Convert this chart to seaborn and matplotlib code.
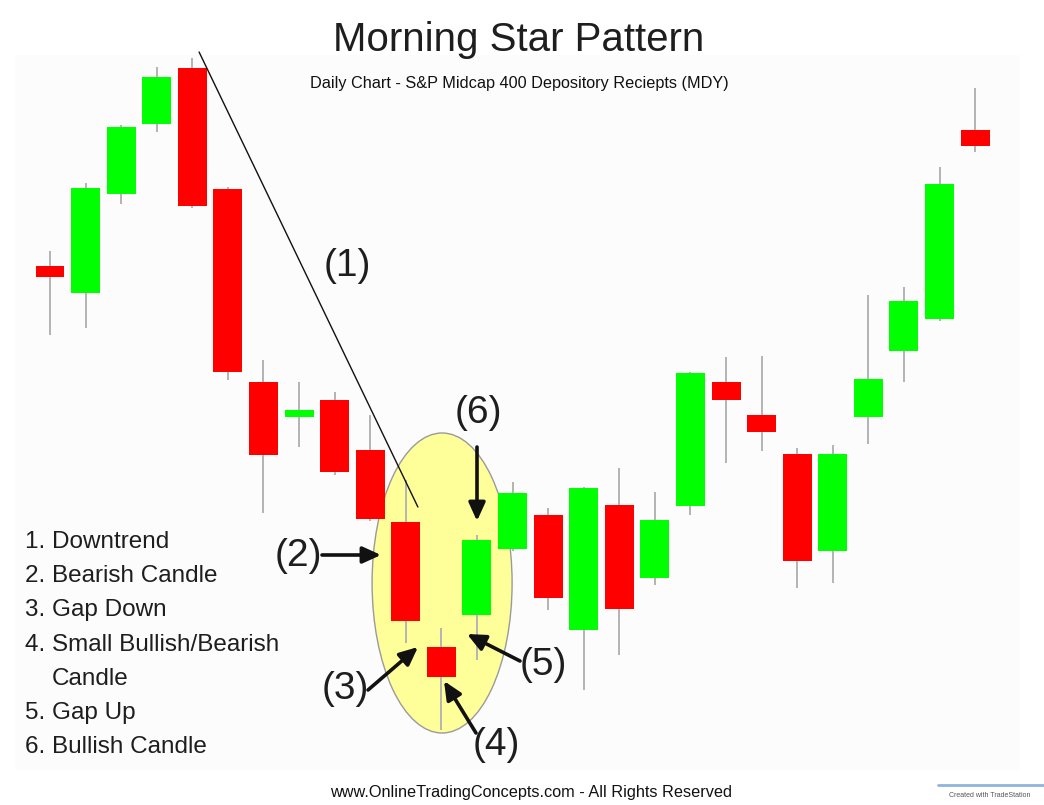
import matplotlib
matplotlib.use("Agg")
import matplotlib.pyplot as plt
from matplotlib.patches import Ellipse, Rectangle
from matplotlib.lines import Line2D
import seaborn as sns
import pandas as pd
import numpy as np

# daily OHLC (price axis is hidden in the original)
opens  = [96.95, 95.60, 100.55, 104.05, 106.85, 100.80, 91.15, 89.40, 90.25, 87.75,
          84.15, 77.90, 79.50, 82.80, 84.50, 78.75, 85.00, 81.35, 84.95, 91.15,
          89.50, 87.55, 82.70, 89.40, 92.70, 94.30, 103.75]
highs  = [97.70, 101.10, 104.00, 106.90, 107.35, 100.90, 92.25, 91.15, 90.65, 89.50,
          86.25, 78.85, 83.50, 86.15, 84.85, 85.90, 86.85, 85.65, 91.65, 92.40,
          92.45, 87.85, 88.00, 95.50, 95.90, 101.90, 105.85]
lows   = [93.50, 93.85, 100.05, 103.65, 99.85, 91.25, 84.60, 87.90, 86.50, 84.20,
          78.10, 73.75, 77.25, 82.70, 79.75, 75.75, 77.50, 81.00, 84.50, 87.10,
          87.70, 80.85, 81.10, 88.05, 91.15, 94.20, 102.65]
closes = [96.40, 100.85, 103.90, 106.40, 99.95, 91.65, 87.50, 89.75, 86.65, 84.30,
          79.20, 76.40, 83.25, 85.60, 80.35, 85.85, 79.80, 84.25, 91.60, 90.25,
          88.65, 82.20, 87.55, 91.30, 95.20, 101.05, 102.95]

legend_lines = ["1. Downtrend", "2. Bearish Candle", "3. Gap Down",
                "4. Small Bullish/Bearish", "Candle", "5. Gap Up", "6. Bullish Candle"]

# annotation guide line (1) and the highlight around the star
trend_days = [4.19, 10.34]
trend_prices = [107.65, 84.90]

W, H = 1044, 805
SP = 35.58          # pixels per day in the original
RED, GREEN, WICK = "#FF0000", "#00FF00", "#B4B4B4"
INK = "#1E1E1E"

sns.set_style("white")
plt.rcParams["font.family"] = ["Liberation Sans", "DejaVu Sans"]


def fp(x, y):
    # top-left pixel -> figure fraction
    return (x / W, 1 - y / H)


df = pd.DataFrame({"day": np.arange(len(opens)), "open": opens, "high": highs,
                   "low": lows, "close": closes})
df["body_low"] = df[["open", "close"]].min(axis=1)
df["body"] = (df["close"] - df["open"]).abs()
df["color"] = np.where(df["close"] >= df["open"], GREEN, RED)

fig = plt.figure(figsize=(W / 100, H / 100), dpi=100)
fig.add_artist(Rectangle(fp(15, 770), 1005 / W, 715 / H, transform=fig.transFigure,
                         facecolor="#FCFCFC", edgecolor="none", zorder=-5))
ax = fig.add_axes([0, 0, 1, 1])

sns.barplot(data=df, x="day", y="body", bottom=df["body_low"].values, width=0.815,
            color=GREEN, saturation=1, errorbar=None, linewidth=0, zorder=3, ax=ax)
for patch, c in zip(ax.patches, df["color"]):
    patch.set_facecolor(c)
ax.vlines(df["day"], df["low"], df["high"], color=WICK, lw=1.4, zorder=2)

ax.add_patch(Ellipse((11.02, 81.1), 3.935, 15.0, facecolor="#FFFF99",
                     edgecolor="#9A9A9A", lw=1.0, zorder=1))
ax.plot(trend_days, trend_prices, color="#111111", lw=1.0, zorder=4)

ax.set_xlim(-50 / SP, (W - 50) / SP)
ax.set_ylim(70, 110.25)
ax.set_axis_off()

# titles
fig.text(*fp(519, 51), "Morning Star Pattern", ha="center", va="baseline",
         fontsize=29, color=INK)
fig.text(*fp(519, 88), "Daily Chart - S&P Midcap 400 Depository Reciepts (MDY)",
         ha="center", va="baseline", fontsize=11.7, color="#111111")
fig.text(*fp(531, 797), "www.OnlineTradingConcepts.com - All Rights Reserved",
         ha="center", va="baseline", fontsize=11.7, color="#111111")

# numbered list on the left
for k, line in enumerate(legend_lines):
    x0 = 52 if line == "Candle" else 25
    fig.text(*fp(x0, 548 + 34.2 * k), line, ha="left", va="baseline",
             fontsize=17.5, color=INK)

# numbered callouts
labels = {"(1)": (347, 266), "(2)": (298, 556), "(3)": (345, 689),
          "(4)": (496, 745), "(5)": (543, 665), "(6)": (478, 413)}
for txt, (x, y) in labels.items():
    fig.text(*fp(x, y), txt, ha="center", va="center", fontsize=28, color=INK)

arrows = [((322, 555), (381, 555)), ((368, 690), (418, 647)),
          ((476, 733), (444, 681)), ((520, 661), (467, 634)),
          ((477, 447), (477, 521))]
for tail, head in arrows:
    ax.annotate("", xy=fp(*head), xytext=fp(*tail), xycoords="figure fraction",
                textcoords="figure fraction",
                arrowprops=dict(arrowstyle="-|>,head_length=0.55,head_width=0.25",
                                lw=2.6, color="#111111", shrinkA=0, shrinkB=0,
                                mutation_scale=20))

# small TradeStation stamp, bottom right
fig.add_artist(Line2D([938 / W, 1044 / W], [1 - 785 / H] * 2, transform=fig.transFigure,
                      color="#8FB3E0", lw=2))
fig.text(*fp(990, 797), "Created with TradeStation", ha="center", va="baseline",
         fontsize=5, color="#555555")

fig.savefig("out.png", dpi=100)
